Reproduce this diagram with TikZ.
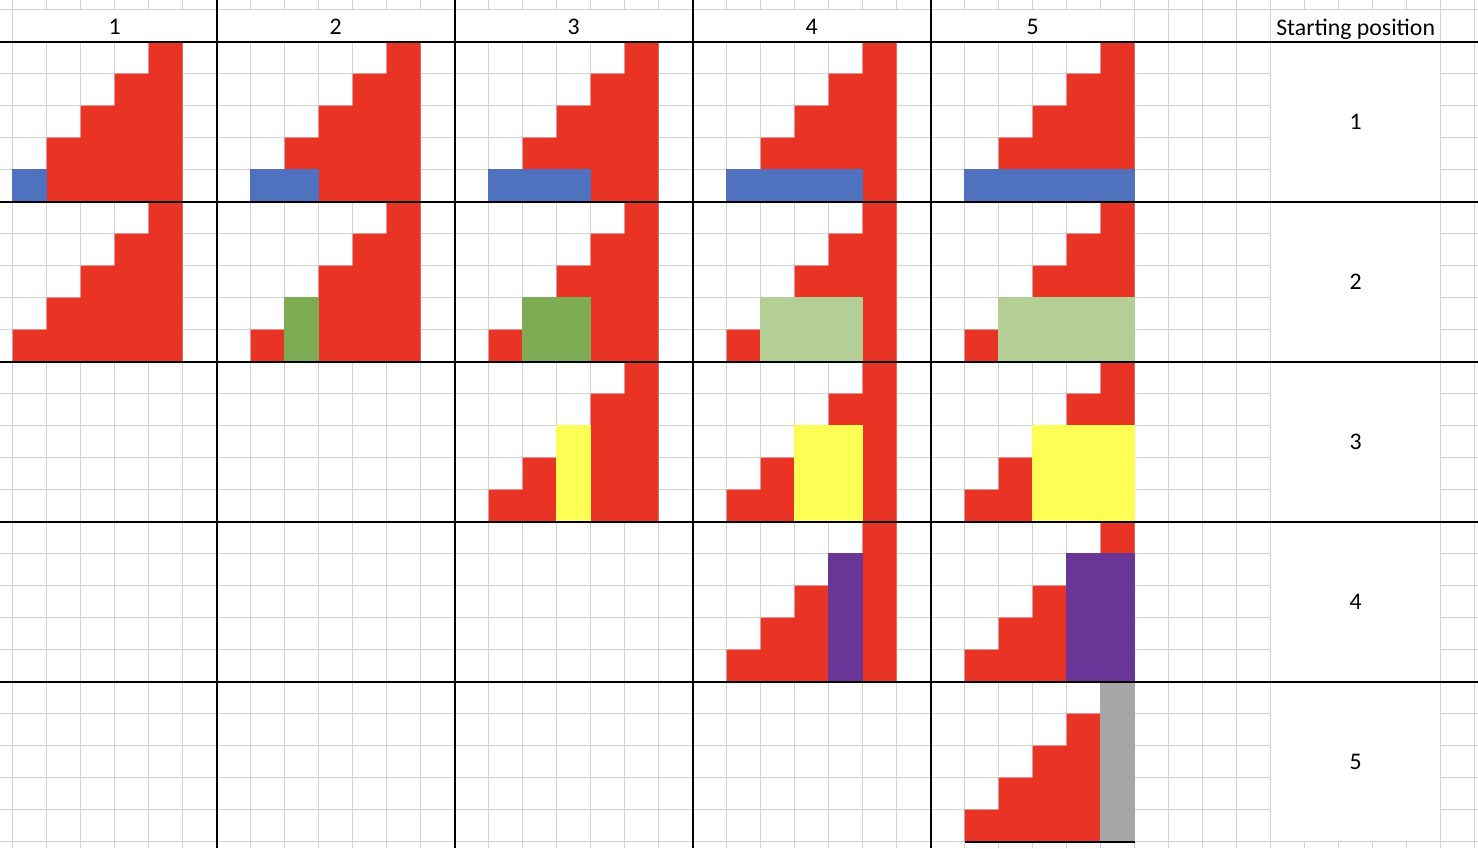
\documentclass[tikz,border=0pt]{standalone}
\usepackage{fontspec}
\setmainfont{Carlito}
\definecolor{cellred}{RGB}{233,51,36}
\definecolor{cellblue}{RGB}{79,113,190}
\definecolor{celldkgreen}{RGB}{125,172,85}
\definecolor{cellltgreen}{RGB}{179,207,150}
\definecolor{cellyellow}{RGB}{255,254,84}
\definecolor{cellpurple}{RGB}{105,54,152}
\definecolor{cellgrey}{RGB}{166,166,166}
\definecolor{gridgrey}{RGB}{210,210,210}
\usetikzlibrary{calc}
\tikzset{
  gridline/.style={draw=gridgrey, line width=0.75pt},
  border/.style={draw=black, line width=1pt},
  celltext/.style={font=\fontsize{11.9}{14}\selectfont, inner sep=0pt},
  stairfill/.style={fill=cellred},
}

\begin{document}
\begin{tikzpicture}[x=17pt, y=-16pt]
        \useasboundingbox (-0.3735,-1.303) rectangle (43.097,25.197);
        \fill[white] (-0.3735,-1.303) rectangle (43.097,25.197);
        % sheet grid
        \foreach \k in {0,...,43}
          \draw[gridline] (\k,-1.303) -- (\k,-1);
        \foreach \k in {0,6,13,20,27,33,34,35,36,37,42,43}
          \draw[gridline] (\k,-1) -- (\k,0);
        \foreach \k in {0,...,37,42,43}
          \draw[gridline] (\k,0) -- (\k,25.197);
        \foreach \k in {38,...,41}
          \draw[gridline] (\k,25) -- (\k,25.197);
        \draw[gridline] (-0.3735,-1) -- (43.097,-1);
        \draw[gridline] (-0.3735,25) -- (43.097,25);
        \foreach \r in {1,...,24} {
          \draw[gridline] (-0.3735,\r) -- (37,\r);
          \draw[gridline] (42,\r) -- (43.097,\r);
        }
        % red staircases
        \foreach \g/\b in {1/1,2/1,3/1,4/1,5/1,1/2,2/2,3/2,4/2,5/2,3/3,4/3,5/3,4/4,5/4,5/5} {
          \pgfmathtruncatemacro{\T}{7*\g-3}
          \pgfmathtruncatemacro{\R}{5*(\b-1)}
          \fill[stairfill] (\T-4,\R+5) -- (\T-4,\R+4) -- (\T-3,\R+4) -- (\T-3,\R+3)
            -- (\T-2,\R+3) -- (\T-2,\R+2) -- (\T-1,\R+2) -- (\T-1,\R+1)
            -- (\T,\R+1) -- (\T,\R) -- (\T+1,\R) -- (\T+1,\R+5) -- cycle;
        }
        % placed pieces
        \foreach \g/\b/\c in {1/1/cellblue,2/1/cellblue,3/1/cellblue,4/1/cellblue,5/1/cellblue,
            2/2/celldkgreen,3/2/celldkgreen,4/2/cellltgreen,5/2/cellltgreen,
            3/3/cellyellow,4/3/cellyellow,5/3/cellyellow,
            4/4/cellpurple,5/4/cellpurple,5/5/cellgrey} {
          \pgfmathtruncatemacro{\T}{7*\g-3}
          \pgfmathtruncatemacro{\R}{5*(\b-1)}
          \filldraw[fill=\c, draw=\c, line width=0.4pt] (\T-5+\b,\R+5-\b) rectangle (\T-4+\g,\R+5);
        }
        % thick borders
        \foreach \k in {6,13,20,27}
          \draw[border] (\k,-1.303) -- (\k,25.197);
        \foreach \r in {0,5,...,20}
          \draw[border] (-0.3735,\r) -- (43.097,\r);
        \draw[border] (28,25) -- (33,25);
        % headers
        \node[celltext, anchor=base] (h1) at (3,-0.21) {1};
        \node[celltext, anchor=base] (h2) at (9.5,-0.21) {2};
        \node[celltext, anchor=base] (h3) at (16.5,-0.21) {3};
        \node[celltext, anchor=base] (h4) at (23.5,-0.21) {4};
        \node[celltext, anchor=base] (h5) at (30,-0.21) {5};
        \node[celltext, anchor=base] (hstart) at (39.5,-0.2) {Starting position};
        \foreach \n in {1,...,5}
          \node[celltext] (s\n) at (39.5,5*\n-2.5) {\n};
      \end{tikzpicture}
\end{document}
